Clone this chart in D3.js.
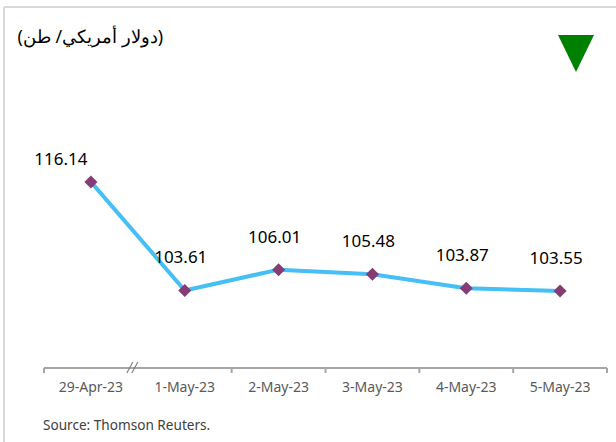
<!DOCTYPE html>
<html lang="en">
<head>
<meta charset="utf-8">
<title>price chart</title>
<script src="https://cdn.jsdelivr.net/npm/d3@7"></script>
<style>
  body { margin: 0; background: #fff; }
  svg text { font-family: "Noto Sans", "Open Sans", sans-serif; }
</style>
</head>
<body>
<div id="chart"></div>
<script>
// data
const dates = ["29-Apr-23", "1-May-23", "2-May-23", "3-May-23", "4-May-23", "5-May-23"];
const prices = [116.14, 103.61, 106.01, 105.48, 103.87, 103.55];
const unitLabel = "(دولار أمريكي/ طن)";
const sourceText = "Source: Thomson Reuters.";

const w = 616, h = 442;
const svg = d3.select("#chart").append("svg").attr("width", w).attr("height", h);

// frame (top + left edge)
svg.append("line").attr("x1", 4).attr("x2", w).attr("y1", 7).attr("y2", 7)
  .attr("stroke", "#d9d9d9").attr("stroke-width", 2);
svg.append("line").attr("x1", 4).attr("x2", 4).attr("y1", 7).attr("y2", h)
  .attr("stroke", "#d9d9d9").attr("stroke-width", 2);

// unit title (rtl: start = right edge)
svg.append("text").attr("x", 163).attr("y", 43).attr("text-anchor", "start")
  .attr("direction", "rtl").attr("font-size", 17.8).attr("fill", "#000")
  .text(unitLabel);

// down triangle
svg.append("path")
  .attr("d", d3.line()([[558, 35], [594, 35], [576, 72]]) + "Z")
  .attr("fill", "#008000");

var x = d3.scaleBand().domain(dates).range([44, 607]);
var y = d3.scaleLinear().domain([95, 120]).range([365, 148.5]);
var axisY = 368;

// x axis
var ax = svg.append("g").attr("transform", "translate(0," + axisY + ")")
  .call(d3.axisBottom(x).tickSize(0).tickPadding(14));
ax.select(".domain").attr("stroke", "#a6a6a6").attr("stroke-width", 2)
  .attr("d", "M44,0H607");
ax.selectAll("text").attr("font-size", 14).attr("fill", "#595959")
  .attr("font-family", "Noto Sans, sans-serif");

// tick marks at band boundaries (skip the break one)
var bounds = dates.map(d => x(d)).concat([x.range()[1]]);
ax.selectAll(".bnd").data(bounds.filter((b, i) => i !== 1)).enter().append("line")
  .attr("x1", d => d).attr("x2", d => d).attr("y1", 0).attr("y2", 5)
  .attr("stroke", "#a6a6a6").attr("stroke-width", 2);

// axis break "//"
var bx = x(dates[1]) - 5;
[-3, 2].forEach(function(o) {
  ax.append("line").attr("x1", bx + o - 3).attr("x2", bx + o + 3)
    .attr("y1", 5).attr("y2", -6).attr("stroke", "#808080").attr("stroke-width", 1.2);
});

var cx = d => x(d) + x.bandwidth() / 2;

// line
svg.append("path").datum(prices)
  .attr("fill", "none").attr("stroke", "#45bff5").attr("stroke-width", 4)
  .attr("stroke-linejoin", "round")
  .attr("d", d3.line().x((d, i) => cx(dates[i])).y(d => y(d)));

// markers
svg.selectAll(".pt").data(prices).enter().append("path")
  .attr("d", d3.symbol().type(d3.symbolSquare).size(85))
  .attr("transform", (d, i) => "translate(" + cx(dates[i]) + "," + y(d) + ") rotate(45)")
  .attr("fill", "#843c74");

// value labels
svg.selectAll(".lbl").data(prices).enter().append("text")
  .attr("x", (d, i) => cx(dates[i]) + (i === 0 ? -30 : -4))
  .attr("y", (d, i) => y(d) - (i === 0 ? 17 : 27))
  .attr("text-anchor", "middle").attr("font-size", 17).attr("fill", "#000")
  .text(d => d.toFixed(2));

// source
svg.append("text").attr("x", 43).attr("y", 430).attr("font-size", 13.6)
  .attr("fill", "#404040").text(sourceText);
</script>
</body>
</html>
